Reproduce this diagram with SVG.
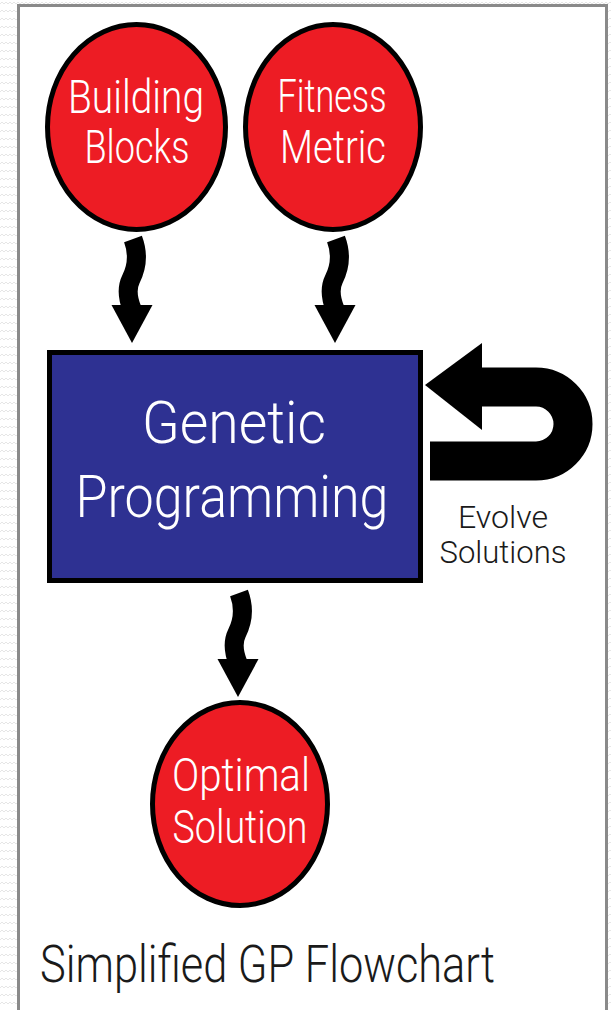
<svg xmlns="http://www.w3.org/2000/svg" width="611" height="1010" viewBox="0 0 611 1010">
  <defs>
    <style>
      .bub { fill: #ed1c24; stroke: #000; stroke-width: 5; }
      .box { fill: #2e3192; stroke: #000; stroke-width: 5; }
      .wt { fill: #ffffff; font-family: Roboto, "Liberation Sans", Arial, sans-serif; font-weight: 300; text-anchor: middle; }
      .bt { fill: #1a1a1a; font-family: Roboto, "Liberation Sans", Arial, sans-serif; font-weight: 300; }
      .shaft { fill: none; stroke: #000; stroke-width: 19; }
    </style>
    <pattern id="zz" width="8" height="8" patternUnits="userSpaceOnUse">
      <polyline points="0,4 2,2 4,4 6,2 8,4" fill="none" stroke="#e6e6e6" stroke-width="1"/>
    </pattern>
    <g id="wavy">
      <path class="shaft" d="M1,-104 C7,-88 4,-74 -1,-64 C-6,-54 -4,-44 0,-34"/>
      <polygon points="-20.5,-38 20.5,-38 0,0" fill="#000"/>
    </g>
  </defs>

  <rect x="0" y="0" width="611" height="1010" fill="url(#zz)"/>
  <rect x="18.5" y="5.5" width="588" height="1010" fill="#ffffff" stroke="#8a8a8a" stroke-width="3"/>

  <g id="connectors">
    <use href="#wavy" x="132" y="343"/>
    <use href="#wavy" x="335" y="343"/>
    <use href="#wavy" x="238" y="697"/>
    <g id="evolve-loop">
      <path d="M480,387 H536 A37,37 0 0 1 536,461 H430" fill="none" stroke="#000" stroke-width="39"/>
      <polygon points="425,385 482,343 482,430" fill="#000"/>
    </g>
    <text class="bt" x="503" y="528" font-size="31" text-anchor="middle" textLength="90" lengthAdjust="spacingAndGlyphs">Evolve</text>
    <text class="bt" x="503" y="563" font-size="31" text-anchor="middle" textLength="127" lengthAdjust="spacingAndGlyphs">Solutions</text>
  </g>

  <g id="building-blocks">
    <ellipse class="bub" cx="136.5" cy="127" rx="89" ry="102.5"/>
    <text class="wt" x="136" y="113" font-size="47" textLength="136" lengthAdjust="spacingAndGlyphs">Building</text>
    <text class="wt" x="137" y="163" font-size="47" textLength="105" lengthAdjust="spacingAndGlyphs">Blocks</text>
  </g>

  <g id="fitness-metric">
    <ellipse class="bub" cx="333" cy="127" rx="87.5" ry="102.5"/>
    <text class="wt" x="332" y="112" font-size="47" textLength="109" lengthAdjust="spacingAndGlyphs">Fitness</text>
    <text class="wt" x="333" y="163" font-size="47" textLength="106" lengthAdjust="spacingAndGlyphs">Metric</text>
  </g>

  <g id="genetic-programming">
    <rect class="box" x="49.5" y="352.5" width="371" height="228"/>
    <text class="wt" x="234" y="443" font-size="60" textLength="184" lengthAdjust="spacingAndGlyphs">Genetic</text>
    <text class="wt" x="232" y="517" font-size="60" textLength="313" lengthAdjust="spacingAndGlyphs">Programming</text>
  </g>

  <g id="optimal-solution">
    <ellipse class="bub" cx="240" cy="804" rx="87.5" ry="101.5"/>
    <text class="wt" x="241" y="791" font-size="47" textLength="138" lengthAdjust="spacingAndGlyphs">Optimal</text>
    <text class="wt" x="240" y="843" font-size="47" textLength="135" lengthAdjust="spacingAndGlyphs">Solution</text>
  </g>

  <text id="caption" class="bt" x="40" y="982" font-size="52" textLength="455" lengthAdjust="spacingAndGlyphs">Simplified GP Flowchart</text>
</svg>
